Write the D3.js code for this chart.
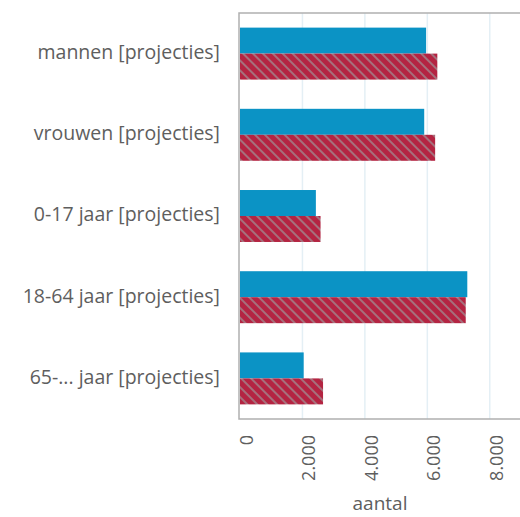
<!DOCTYPE html>
<html><head><meta charset="utf-8">
<script src="https://cdn.jsdelivr.net/npm/d3@7"></script>
<style>
body{margin:0;background:#fff;}
text{font-family:"Open Sans","Noto Sans",sans-serif;}
</style></head>
<body><svg id="c" width="520" height="517"></svg>
<script>
const categories = ["mannen [projecties]","vrouwen [projecties]","0-17 jaar [projecties]","18-64 jaar [projecties]","65-... jaar [projecties]"];
const seriesA = [5960, 5900, 2430, 7280, 2040];
const seriesB = [6320, 6250, 2580, 7230, 2660];
const tickValues = [0, 2000, 4000, 6000, 8000];
const tickLabels = ["0","2.000","4.000","6.000","8.000"];
const axisTitle = "aantal";

const svg = d3.select("#c");
const m = {left:240, top:13, right:0, bottom:98};
const W = 520, H = 517;
const x = d3.scaleLinear().domain([0, 9000]).range([m.left, W + 1]);
const y = d3.scaleBand().domain(categories).range([m.top, H - m.bottom]).paddingInner(0.36).paddingOuter(0.18);
const sub = d3.scaleBand().domain(["a","b"]).range([0, y.bandwidth()]);

const defs = svg.append("defs");
const pat = defs.append("pattern").attr("id","hatch").attr("patternUnits","userSpaceOnUse")
  .attr("width",7).attr("height",7).attr("patternTransform","rotate(-45)");
pat.append("rect").attr("width",7).attr("height",7).attr("fill","#b42442");
pat.append("rect").attr("x",0).attr("width",2).attr("height",7).attr("fill","#a6707c");

// grid
svg.append("g").selectAll("line").data(tickValues.slice(1)).join("line")
  .attr("x1",d=>x(d)).attr("x2",d=>x(d)).attr("y1",m.top).attr("y2",H-m.bottom)
  .attr("stroke","#e4eff5").attr("stroke-width",1.5);

// bars
const g = svg.append("g");
g.selectAll(".a").data(categories).join("rect")
  .attr("x",x(0)).attr("y",(d)=>y(d)+sub("a"))
  .attr("width",(d,i)=>x(seriesA[i])-x(0)).attr("height",sub.bandwidth())
  .attr("fill","#0b93c5");
g.selectAll(".b").data(categories).join("rect")
  .attr("x",x(0)).attr("y",(d)=>y(d)+sub("b"))
  .attr("width",(d,i)=>x(seriesB[i])-x(0)).attr("height",sub.bandwidth())
  .attr("fill","url(#hatch)");

// frame
svg.append("path").attr("d",`M${W+1},${m.top}H${m.left-1}V${H-m.bottom}H${W+1}`)
  .attr("fill","none").attr("stroke","#b0b0b0").attr("stroke-width",1.5);

// y labels
svg.append("g").selectAll("text").data(categories).join("text")
  .attr("x",220).attr("y",d=>y(d)+y.bandwidth()/2).attr("dy","0.28em")
  .attr("text-anchor","end").attr("font-size",19.5).attr("fill","#5e5e5e").text(d=>d);

// x ticks
const xa = d3.axisBottom(x).tickValues(tickValues).tickFormat((d,i)=>tickLabels[i]).tickSize(0).tickPadding(0);
const ax = svg.append("g").attr("transform",`translate(0,${H-m.bottom})`).call(xa);
ax.select(".domain").remove();
ax.selectAll("text").attr("transform","rotate(-90)").attr("text-anchor","end")
  .attr("x",-16).attr("y",6).attr("dy","0.35em").attr("font-size",18).attr("fill","#5e5e5e")
  .style("font-family",'"Open Sans","Noto Sans",sans-serif');

svg.append("text").attr("x",380).attr("y",510).attr("text-anchor","middle")
  .attr("font-size",19).attr("fill","#5e5e5e").text(axisTitle);
</script></body></html>
